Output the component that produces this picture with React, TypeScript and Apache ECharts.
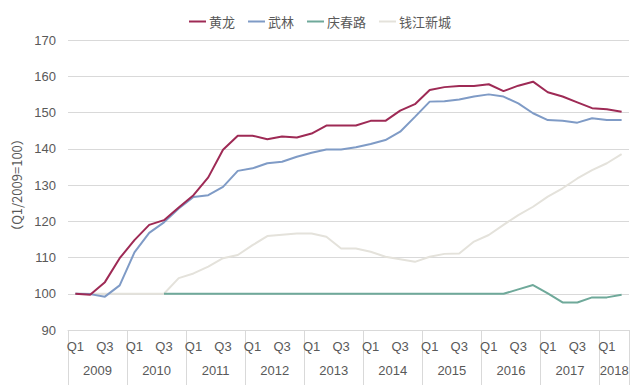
import React, { useEffect, useRef } from "react";
import * as echarts from "echarts";

const years = ["2009", "2010", "2011", "2012", "2013", "2014", "2015", "2016", "2017", "2018"];
const quartersPerYear = [4, 4, 4, 4, 4, 4, 4, 4, 4, 2];
const quarterNames = ["Q1", "Q2", "Q3", "Q4"];

const seriesNames = ["黄龙", "武林", "庆春路", "钱江新城"];

const huanglong = [
  100, 99.7, 103.2, 109.8, 114.8, 119.0, 120.3, 123.8, 127.2, 132.1,
  139.7, 143.6, 143.6, 142.6, 143.4, 143.1, 144.2, 146.4, 146.4, 146.4,
  147.7, 147.7, 150.5, 152.3, 156.2, 157.0, 157.3, 157.3, 157.8, 155.9,
  157.4, 158.5, 155.6, 154.4, 152.8, 151.2, 150.9, 150.2,
];
const wulin = [
  100, 99.9, 99.2, 102.3, 111.4, 116.8, 119.7, 123.5, 126.7, 127.2,
  129.5, 133.9, 134.6, 136.0, 136.4, 137.8, 138.9, 139.8, 139.8, 140.4,
  141.3, 142.4, 144.7, 148.8, 153.0, 153.1, 153.6, 154.4, 155.0, 154.4,
  152.5, 149.8, 147.9, 147.7, 147.2, 148.4, 147.9, 147.9,
];
const qingchunlu = [
  null, null, null, null, null, null, 100, 100, 100, 100,
  100, 100, 100, 100, 100, 100, 100, 100, 100, 100,
  100, 100, 100, 100, 100, 100, 100, 100, 100, 100,
  101.2, 102.4, 100.1, 97.6, 97.6, 99.0, 99.0, 99.7,
];
const qianjiang = [
  100, 100, 100, 100, 100, 100, 100, 104.3, 105.6, 107.5,
  109.8, 110.7, 113.4, 115.9, 116.3, 116.6, 116.6, 115.7, 112.5, 112.5,
  111.6, 110.2, 109.5, 108.8, 110.2, 111.0, 111.1, 114.4, 116.2, 119.0,
  121.7, 124.0, 126.8, 129.1, 131.8, 134.1, 136.0, 138.5,
];

const colors = ["#9E2A55", "#7F9BC6", "#6FA99A", "#E4E2DB"];

const quarterLabels: string[] = [];
const yearStart: number[] = [];
years.forEach((y, yi) => {
  yearStart.push(quarterLabels.length);
  for (let q = 0; q < quartersPerYear[yi]; q++) quarterLabels.push(quarterNames[q]);
});
const yearCenters = years.map((_, yi) => yearStart[yi] + quartersPerYear[yi] / 2);

const FONT = "'Liberation Sans', 'Noto Sans CJK SC', Arial, sans-serif";
const TEXT = "#595959";
const GRID = "#D9D9D9";

export default function App() {
  const ref = useRef<HTMLDivElement>(null);
  useEffect(() => {
    if (!ref.current) return;
    const chart = echarts.init(ref.current, null, { renderer: "svg" });
    const data = [huanglong, wulin, qingchunlu, qianjiang];
    chart.setOption({
      animation: false,
      backgroundColor: "#ffffff",
      textStyle: { fontFamily: FONT },
      legend: {
        top: 10,
        left: "center",
        icon: "rect",
        itemWidth: 17,
        itemHeight: 2,
        itemGap: 13,
        textStyle: { fontFamily: "'Noto Sans CJK SC', sans-serif", fontSize: 13, color: TEXT, padding: [0, 0, 0, -2] },
        data: seriesNames,
      },
      grid: { left: 68, right: 11, top: 40, bottom: 55, containLabel: false },
      xAxis: [
        {
          type: "category",
          data: quarterLabels,
          boundaryGap: true,
          axisLine: { lineStyle: { color: GRID } },
          axisTick: {
            show: true,
            length: 55,
            interval: (i: number) => yearStart.includes(i),
            lineStyle: { color: GRID },
          },
          axisLabel: { interval: 1, fontSize: 13, color: TEXT, margin: 10, fontFamily: FONT },
        },
        {
          type: "value",
          position: "bottom",
          min: 0,
          max: quarterLabels.length,
          interval: 1,
          axisLine: { show: false },
          axisTick: { show: false },
          splitLine: { show: false },
          axisLabel: {
            fontSize: 13,
            color: TEXT,
            margin: 34,
            fontFamily: FONT,
            showMinLabel: true,
            showMaxLabel: true,
            formatter: (v: number) => {
              const k = yearCenters.indexOf(v);
              return k >= 0 ? years[k] : "";
            },
          },
        },
      ],
      yAxis: {
        type: "value",
        min: 90,
        max: 170,
        interval: 10,
        name: "（Q1/2009=100）",
        nameLocation: "middle",
        nameGap: 38,
        nameRotate: 90,
        nameTextStyle: { fontSize: 13, color: TEXT, fontFamily: "'Noto Sans CJK SC', 'Liberation Sans', sans-serif" },
        axisLine: { show: false },
        axisTick: { show: false },
        axisLabel: { fontSize: 13, color: TEXT, margin: 12, fontFamily: FONT },
        splitLine: { lineStyle: { color: GRID, width: 1 } },
      },
      series: seriesNames.map((name, i) => ({
        name,
        type: "line",
        xAxisIndex: 0,
        data: data[i],
        showSymbol: false,
        symbol: "none",
        connectNulls: false,
        z: [5, 4, 2, 1][i],
        lineStyle: { color: colors[i], width: 2 },
        itemStyle: { color: colors[i] },
      })),
    });
    return () => chart.dispose();
  }, []);
  return (
    <div
      ref={ref}
      style={{ position: "fixed", left: 0, top: 0, width: 640, height: 385, background: "#fff" }}
    />
  );
}
